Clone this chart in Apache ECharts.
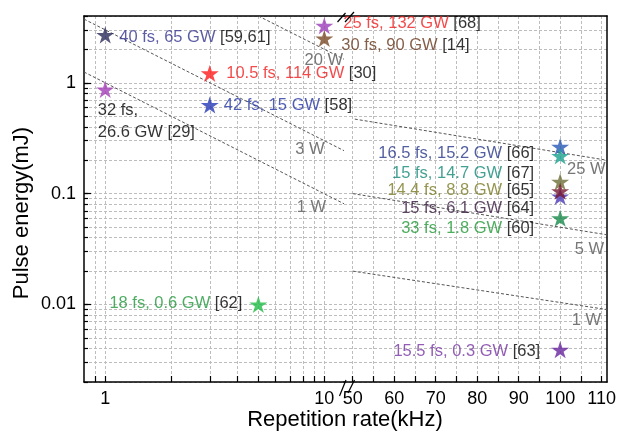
<!DOCTYPE html>
<html><head><meta charset="utf-8">
<script src="https://cdn.jsdelivr.net/npm/echarts@6/dist/echarts.min.js"></script>
<style>html,body{margin:0;padding:0;background:#fff}#c{width:619px;height:434px}</style>
</head><body><div id="c"></div>
<script>
// ---------- data ----------
const leftRate   = [1, 1, 3, 3, 5, 10, 10];
const leftEnergy = [2.69, 0.87, 1.215, 0.63, 0.01, 3.26, 2.51];
const leftText   = ['40 fs, 65 GW', '32 fs,\n26.6 GW', '10.5 fs, 114 GW', '42 fs, 15 GW', '18 fs, 0.6 GW', '25 fs, 132 GW', '30 fs, 90 GW'];
const leftRef    = ['[59,61]', '[29]', '[30]', '[58]', '[62]', '[68]', '[14]'];

const rightRate   = [100, 100, 100, 100, 100, 100, 100];
const rightEnergy = [0.265, 0.218, 0.128, 0.094, 0.105, 0.06, 0.0039];
const rightText   = ['16.5 fs, 15.2 GW', '15 fs, 14.7 GW', '14.4 fs, 8.8 GW', '', '15 fs, 6.1 GW', '33 fs, 1.8 GW', '15.5 fs, 0.3 GW'];
const rightRef    = ['[66]', '[67]', '[65]', '', '[64]', '[60]', '[63]'];

const powerNamesLeft  = ['1 W', '3 W', '20 W'];
const powerLinesLeft  = [[[0.8, 1.25], [12.3, 0.081]], [[0.8, 3.75], [12.3, 0.244]], [[5, 4], [12.3, 1.63]]];
const powerNamesRight = ['25 W', '5 W', '1 W'];
const powerLinesRight = [[[50.5, 0.47], [111.3, 0.2]], [[50, 0.1], [111.3, 0.0425]], [[50, 0.02], [111.3, 0.009]]];

const xTicksLeft   = [0.9, 1, 2, 3, 4, 5, 6, 7, 8, 9, 10];
const xLabelsLeft  = [1, 10];
const xTicksRight  = [50, 55, 60, 65, 70, 75, 80, 85, 90, 95, 100, 105, 110];
const xLabelsRight = [50, 60, 70, 80, 90, 100, 110];
const yTicks  = [0.002, 0.003, 0.004, 0.005, 0.006, 0.007, 0.008, 0.009,
                 0.01, 0.02, 0.03, 0.04, 0.05, 0.06, 0.07, 0.08, 0.09,
                 0.1, 0.2, 0.3, 0.4, 0.5, 0.6, 0.7, 0.8, 0.9, 1, 2, 3, 4];
const yLabels = [0.01, 0.1, 1];

// ---------- styles ----------
const FONT = 'Liberation Sans, Arial, sans-serif';
const starPath = 'path://M0,-1L0.2245,-0.309L0.951,-0.309L0.363,0.118L0.588,0.809L0,0.382L-0.588,0.809L-0.363,0.118L-0.951,-0.309L-0.2245,-0.309Z';
const SW = 18, SH = 17;
const leftStarColors = ['#2a2a5a', '#a23cb5', '#ff1a1a', '#2438b5', '#1fbb45', '#9c3cb8', '#7b4824'];
const leftTextColors = ['#34348e', '#000000', '#f01e1e', '#2636a6', '#22993c', '#f01e1e', '#66361a'];
const leftLabelPos = [[14, 2, 'left'], [-7.5, 31.7, 'left'], [16.5, 0, 'left'], [14, 0, 'left'], [-16, -1, 'right'], [19, -2.4, 'left'], [17, 6.7, 'left']];
const rightStarColors = ['#2658b5', '#18a08e', '#6e6e38', '#4a38b5', '#781830', '#178a48', '#66249c'];
const rightTextColors = ['#283688', '#148a78', '#7a7a24', '#000000', '#36163c', '#229a36', '#7634a3'];
const rightLabelPos = [[-26, 6.6, 'right'], [-26, 17.3, 'right'], [-26, 9, 'right'], [0, 0, 'right'], [-26, 17, 'right'], [-26, 10, 'right'], [-20, 1.7, 'right']];
const powerLabelLeft  = [[-18, 4, 'right'], [-19.4, -1.7, 'right'], [-1, 1, 'right']];
const powerLabelRight = [[-1.5, 9, 'right'], [-3, 15, 'right'], [-6, 11, 'right']];

const gridLine = {color: '#bdbdbd', type: [3, 2], width: 1};
const axisLineStyle = {color: '#000', width: 1.5};

function makeLabel(text, ref, color, pos) {
  if (!text) return {show: false};
  const lines = text.split('\n');
  const fmt = lines.map((l, i) => '{t|' + l + '}' + (i === lines.length - 1 ? ' {r|' + ref + '}' : '')).join('\n');
  return {
    show: true,
    position: [pos[0] + SW / 2, pos[1] + SH / 2],
    align: pos[2], verticalAlign: 'middle',
    formatter: fmt, fontSize: 16.5, fontFamily: FONT, color: '#000', lineHeight: 22,
    rich: {
      t: {color: color, fontSize: 16.5, fontFamily: FONT, lineHeight: 22},
      r: {color: '#000', fontSize: 16.5, fontFamily: FONT, lineHeight: 22}
    }
  };
}

function starSeries(rate, energy, text, ref, starColors, textColors, pos, gi) {
  return {
    type: 'scatter', xAxisIndex: gi, yAxisIndex: gi === 0 ? 0 : 2,
    symbol: starPath, symbolSize: [SW, SH], z: 5,
    data: rate.map((r, i) => ({
      value: [r, energy[i]],
      itemStyle: {color: starColors[i]},
      label: makeLabel(text[i], ref[i], textColors[i], pos[i])
    }))
  };
}

function powerSeries(lines, names, labelPos, gi) {
  return lines.map((pts, k) => ({
    type: 'line', xAxisIndex: gi, yAxisIndex: gi === 0 ? 0 : 2,
    symbol: 'circle', symbolSize: 1, showSymbol: true, z: 3,
    itemStyle: {color: 'rgba(0,0,0,0)'},
    lineStyle: {color: '#555', type: [3, 2], width: 1},
    data: pts.map((p, i) => i === pts.length - 1 ? {
      value: p,
      label: {show: true, formatter: names[k], position: [labelPos[k][0] + 0.5, labelPos[k][1] + 0.5],
              align: labelPos[k][2], verticalAlign: 'middle', color: '#777', fontSize: 16.5, fontFamily: FONT}
    } : {value: p})
  }));
}

const frameOnly = {show: true, onZero: false, lineStyle: axisLineStyle};

const chart = echarts.init(document.getElementById('c'), null, {renderer: 'canvas'});
chart.setOption({
  animation: false,
  backgroundColor: '#fff',
  textStyle: {fontFamily: FONT},
  grid: [
    {left: 84, top: 16, width: 260, bottom: 52},
    {left: 344, top: 16, right: 10, bottom: 52}
  ],
  xAxis: [
    {type: 'log', gridIndex: 0, min: 0.8, max: 12.3,
     axisLine: frameOnly,
     axisTick: {show: true, inside: true, length: 6, customValues: xTicksLeft, lineStyle: {color: '#000', width: 1.2}},
     axisLabel: {customValues: xLabelsLeft, fontSize: 18, color: '#000', margin: 8, fontFamily: FONT},
     splitLine: {show: true, lineStyle: gridLine}},
    {type: 'value', gridIndex: 1, min: 47.9, max: 111.3,
     axisLine: frameOnly,
     axisTick: {show: true, inside: true, length: 6, customValues: xTicksRight, lineStyle: {color: '#000', width: 1.2}},
     axisLabel: {customValues: xLabelsRight, fontSize: 18, color: '#000', margin: 8, fontFamily: FONT},
     splitLine: {show: true, lineStyle: gridLine}},
    {type: 'value', gridIndex: 0, position: 'top', min: 0, max: 1,
     axisLine: frameOnly, axisTick: {show: false}, axisLabel: {show: false}, splitLine: {show: false}},
    {type: 'value', gridIndex: 1, position: 'top', min: 0, max: 1,
     axisLine: frameOnly, axisTick: {show: false}, axisLabel: {show: false}, splitLine: {show: false}}
  ],
  yAxis: [
    {type: 'log', gridIndex: 0, min: 0.002, max: 4, position: 'left',
     axisLine: frameOnly,
     axisTick: {show: true, inside: true, length: 4, customValues: yTicks, lineStyle: {color: '#000', width: 1.2}},
     axisLabel: {customValues: yLabels, fontSize: 18, color: '#000', margin: 8, fontFamily: FONT},
     splitLine: {show: true, lineStyle: gridLine}},
    {type: 'log', gridIndex: 0, min: 0.002, max: 4, position: 'left',
     axisLine: {show: false, onZero: false},
     axisTick: {show: true, inside: true, length: 7, customValues: yLabels, lineStyle: {color: '#000', width: 1.2}},
     axisLabel: {show: false}, splitLine: {show: false}},
    {type: 'log', gridIndex: 1, min: 0.002, max: 4, position: 'right',
     axisLine: frameOnly,
     axisTick: {show: false, customValues: yTicks},
     axisLabel: {show: false},
     splitLine: {show: true, lineStyle: gridLine}}
  ],
  series: [].concat(
    powerSeries(powerLinesLeft, powerNamesLeft, powerLabelLeft, 0),
    powerSeries(powerLinesRight, powerNamesRight, powerLabelRight, 1),
    [starSeries(leftRate, leftEnergy, leftText, leftRef, leftStarColors, leftTextColors, leftLabelPos, 0),
     starSeries(rightRate, rightEnergy, rightText, rightRef, rightStarColors, rightTextColors, rightLabelPos, 1)]
  ),
  graphic: [
    {type: 'line', z: 100, shape: {x1: 337.5, y1: 22, x2: 345.5, y2: 13}, style: {stroke: '#000', lineWidth: 1.2}},
    {type: 'line', z: 100, shape: {x1: 345, y1: 22, x2: 354, y2: 12}, style: {stroke: '#000', lineWidth: 1.2}},
    {type: 'line', z: 100, shape: {x1: 339.5, y1: 396, x2: 346, y2: 380}, style: {stroke: '#000', lineWidth: 1.2}},
    {type: 'line', z: 100, shape: {x1: 348, y1: 393, x2: 354.5, y2: 380}, style: {stroke: '#000', lineWidth: 1.2}},
    {type: 'text', z: 100, x: 345, y: 420, style: {text: 'Repetition rate(kHz)', fontSize: 22, fontFamily: FONT, fill: '#000', align: 'center', verticalAlign: 'middle'}},
    {type: 'text', z: 100, x: 22, y: 213, rotation: Math.PI / 2, style: {text: 'Pulse energy(mJ)', fontSize: 22, fontFamily: FONT, fill: '#000', align: 'center', verticalAlign: 'middle'}}
  ]
});
</script></body></html>
